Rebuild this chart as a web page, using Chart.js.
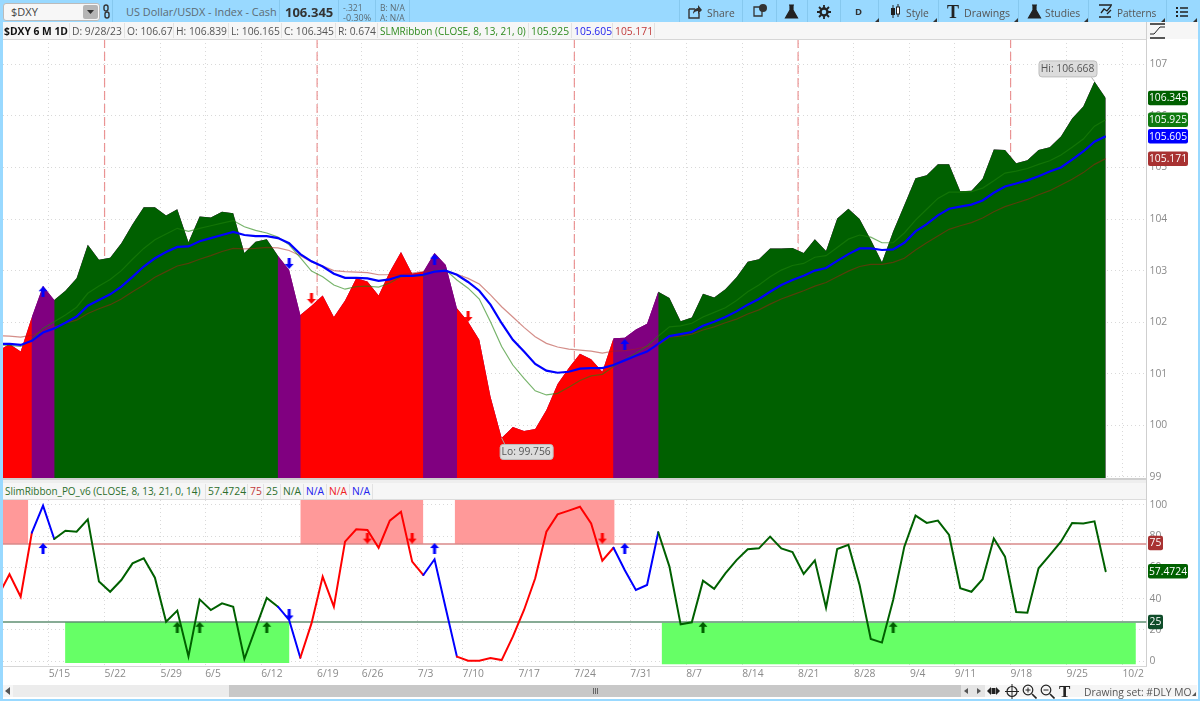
<!DOCTYPE html>
<html><head><meta charset="utf-8">
<script src="https://cdn.jsdelivr.net/npm/chart.js@4/dist/chart.umd.min.js"></script>
<style>
html,body{margin:0;padding:0;background:#fff;width:1200px;height:701px;overflow:hidden;font-family:"Open Sans",sans-serif;font-size:10.3px;color:#555}
canvas{position:absolute;left:0;top:0}
.b{position:absolute}
.t{position:absolute;white-space:nowrap;line-height:16px}
svg{position:absolute}
</style></head><body>
<canvas id="price" width="1200" height="701" style="z-index:1"></canvas>
<div id="ui"></div>
<canvas id="osc" width="1200" height="701" style="z-index:3"></canvas>
<script>
// ---------- data (first entry is the bar clipped at the left edge, bar -1) ----------
const closes=[101.44,101.58,101.43,102.10,102.70,102.43,102.61,102.85,103.50,103.21,103.25,103.53,103.90,104.23,104.23,104.07,104.19,103.55,104.05,104.03,104.14,104.11,103.34,103.56,103.61,103.29,103.01,102.14,102.32,102.52,102.10,102.42,102.85,102.79,102.52,102.98,103.36,102.94,102.98,103.34,103.11,102.27,102.01,101.66,100.56,99.756,99.97,99.89,99.93,100.30,100.80,101.11,101.39,101.28,101.04,101.69,101.70,101.86,101.97,102.59,102.47,102.02,102.09,102.55,102.48,102.64,102.87,103.17,103.22,103.43,103.43,103.44,103.34,103.61,103.38,104.01,104.20,104.00,103.60,103.16,103.76,104.27,104.79,104.85,105.06,105.06,104.54,104.55,104.78,105.35,105.34,105.08,105.14,105.34,105.39,105.60,105.95,106.18,106.668,106.345];
const ribbonFast=[101.56,101.55,101.53,101.66,101.88,102.01,102.14,102.29,102.56,102.70,102.83,103.00,103.22,103.43,103.60,103.71,103.82,103.76,103.82,103.87,103.92,103.97,103.85,103.78,103.73,103.65,103.50,103.25,102.99,102.88,102.72,102.64,102.69,102.70,102.68,102.76,102.88,102.90,102.90,103.00,103.01,102.82,102.66,102.45,102.01,101.53,101.17,100.91,100.67,100.59,100.62,100.74,100.87,100.96,100.99,101.14,101.27,101.40,101.54,101.73,101.91,101.93,101.98,102.10,102.19,102.28,102.42,102.59,102.72,102.88,103.01,103.10,103.14,103.26,103.29,103.45,103.61,103.69,103.65,103.54,103.54,103.73,103.98,104.19,104.40,104.52,104.52,104.53,104.60,104.74,104.89,104.93,104.98,105.06,105.13,105.24,105.39,105.55,105.80,105.925];
const ribbonMid=[101.58,101.58,101.56,101.64,101.80,101.88,101.99,102.11,102.32,102.43,102.54,102.69,102.88,103.08,103.24,103.36,103.46,103.47,103.57,103.63,103.69,103.75,103.69,103.67,103.67,103.63,103.53,103.32,103.18,103.08,102.94,102.86,102.86,102.85,102.80,102.83,102.90,102.90,102.92,102.98,103.00,102.92,102.78,102.61,102.34,101.98,101.66,101.43,101.19,101.06,101.02,101.04,101.10,101.11,101.11,101.17,101.26,101.35,101.43,101.58,101.73,101.77,101.81,101.93,102.01,102.10,102.21,102.34,102.45,102.59,102.72,102.82,102.90,103.00,103.05,103.19,103.32,103.43,103.43,103.40,103.41,103.54,103.76,103.90,104.07,104.20,104.24,104.28,104.36,104.51,104.63,104.69,104.75,104.83,104.92,105.00,105.15,105.31,105.50,105.605];
const ribbonSlow=[101.74,101.73,101.71,101.75,101.83,101.91,101.98,102.04,102.17,102.26,102.34,102.45,102.59,102.72,102.87,102.98,103.09,103.14,103.22,103.29,103.37,103.43,103.42,103.43,103.45,103.44,103.39,103.29,103.17,103.09,103.00,102.98,102.97,102.96,102.92,102.92,102.92,102.95,102.98,103.00,102.99,102.93,102.85,102.74,102.53,102.30,102.10,101.90,101.72,101.59,101.52,101.48,101.46,101.44,101.40,101.44,101.45,101.48,101.53,101.55,101.71,101.73,101.77,101.85,101.91,101.99,102.06,102.16,102.24,102.35,102.45,102.53,102.61,102.70,102.77,102.88,102.99,103.08,103.12,103.12,103.16,103.24,103.40,103.54,103.67,103.80,103.87,103.93,104.02,104.14,104.24,104.31,104.38,104.47,104.55,104.66,104.77,104.90,105.06,105.171];
const oscillator=[41.9,55.6,41.2,82.3,99.6,78.2,83.5,82.9,90.8,50.9,44.4,51.9,62.6,65.8,53.4,25.2,32.3,3.0,39.5,32.7,37.0,34.8,1.3,20.9,40.4,34.8,26.3,2.1,24.1,54.1,34.8,76.5,84.4,84.0,72.6,90.0,95.7,63.7,55.1,65.2,33.8,2.8,0.2,0.2,1.9,0.6,15.6,32.7,53.0,82.9,94.0,96.4,98.9,88.2,64.3,72.6,58.3,45.5,48.7,82.5,60.5,23.5,24.8,51.5,46.2,56.2,64.7,71.6,72.2,79.7,72.2,69.9,55.8,64.5,34.2,71.8,74.4,48.7,14.1,11.8,39.1,73.3,93.2,88.5,90.0,80.8,46.6,44.4,52.4,78.6,66.9,31.4,31.0,59.4,67.9,76.5,88.5,88.2,89.5,57.4724];

// trend regime: each segment starts at the bar in regimeStarts
const regimeStarts=[-1,2,4,24,26,37,40,54,58];
const regimeNames=['bear','turn','bull','turn','bear','turn','bear','turn','bull'];

// date ticks: the label sits at the left edge of the named bar
const tickLabels=['5/15','5/22','5/29','6/5','6/12','6/19','6/26','7/3','7/10','7/17','7/24','7/31','8/7','8/14','8/21','8/28','9/4','9/11','9/18','9/25','10/2'];
const tickBars=[4,9,14,18,23,28,32,37,41,46,51,56,61,66,71,76,81,85,90,95,100];
const sessionBars=[9,28,51,71,90];

// signal arrows on the price panel: [bar, value]
const priceBlueUp=[[3,102.59],[38,103.22],[55,101.57]];
const priceBlueDown=[[25,103.14]];
const priceRedDown=[[27,102.46],[41,102.11]];
// signal arrows on the oscillator panel
const oscBlueUp=[[3,72.1],[38,72.1],[55,72.1]];
const oscBlueDown=[[25,29.5]];
const oscRedDown=[[32,78.8],[36,78.8],[53,78.8]];
const oscGreenUp=[[15,21.6],[17,21.6],[23,21.6],[62,21.6],[79,21.6]];

// oscillator zones: [first bar, last bar]
const overboughtZones=[[-0.58,1.68],[26.0,37.0],[39.8,54.1]];
const oversoldZones=[[4.97,25.03,25,-1.3],[58.3,100.7,24.6,-2.1]];
const overboughtLevel=75, oversoldLevel=25;

const xMin=-0.58,xMax=101.65,FS=10.3;
const COLORS={bear:'#ff0000',turn:'#800080',bull:'#006000'};
const LINE={bear:'#ff0000',turn:'#0000ff',bull:'#006000'};
const regimeAt=b=>{let k=0;regimeStarts.forEach((s,n)=>{if(b>=s)k=n});return regimeNames[k]};
const pts=a=>a.map((y,j)=>({x:j-1,y}));
const sig=a=>a.map(([x,y])=>({x,y}));

function arrow(color,up){
  const c=document.createElement('canvas');c.width=10;c.height=11;const g=c.getContext('2d');
  g.fillStyle=color;g.beginPath();
  const P=up?[[5,0],[9.5,5],[6.5,5],[6.5,11],[3.5,11],[3.5,5],[0.5,5]]:[[5,11],[9.5,6],[6.5,6],[6.5,0],[3.5,0],[3.5,6],[0.5,6]];
  P.forEach((p,i)=>i?g.lineTo(p[0],p[1]):g.moveTo(p[0],p[1]));g.closePath();g.fill();return c;
}
const sigSet=(data,color,up)=>({type:'scatter',data:sig(data),pointStyle:arrow(color,up),pointRadius:5,showLine:false,clip:false});

function tag(ctx,text,y,bg,w){
  ctx.save();ctx.fillStyle=bg;const x=1148,h=14.5;
  ctx.beginPath();ctx.roundRect(x,y-h/2,w,h,2);ctx.fill();
  ctx.fillStyle='#fff';ctx.font=FS+'px "Open Sans"';ctx.textAlign='center';ctx.textBaseline='middle';
  ctx.fillText(text,x+w/2,y+.5);ctx.restore();
}
function callout(ctx,text,px,py,bx,by,bw,bh){
  ctx.save();ctx.strokeStyle='#aaa';ctx.lineWidth=1;ctx.beginPath();ctx.moveTo(px,py);ctx.lineTo(px+(bx+bw/2>px+20?3:-3),py+(by>py?6:-4));ctx.stroke();
  ctx.fillStyle='#dcdcdc';ctx.strokeStyle='#bdbdbd';ctx.beginPath();ctx.roundRect(bx+.5,by+.5,bw,bh,3);ctx.fill();ctx.stroke();
  ctx.fillStyle='#555';ctx.font=FS+'px "Open Sans"';ctx.textAlign='center';ctx.textBaseline='middle';ctx.fillText(text,bx+bw/2,by+bh/2+1);ctx.restore();
}
const dotted={color:'#d9d9d9',lineWidth:1,drawTicks:false};
function xAxis(showLabels,height){return{
  type:'linear',min:xMin,max:xMax,
  afterBuildTicks:s=>{s.ticks=tickBars.map(b=>({value:b-0.5}))},
  afterFit:s=>{s.height=height},
  grid:dotted,border:{display:false,dash:[1,3]},
  ticks:{display:showLabels,autoSkip:false,maxRotation:0,minRotation:0,align:'start',padding:2,color:'#8a8a8a',font:{family:'Open Sans',size:FS},callback:(v,i)=>tickLabels[i]}
}}
function yAxis(min,max,step){return{
  type:'linear',position:'right',min,max,
  afterFit:s=>{s.width=53.5},
  grid:dotted,border:{display:false,dash:[1,3]},
  ticks:{stepSize:step,includeBounds:false,padding:3,color:'#8a8a8a',font:{family:'Open Sans',size:FS},callback:v=>String(v)}
}}
const base={responsive:false,animation:false,devicePixelRatio:window.devicePixelRatio||1,events:[],
  elements:{point:{radius:0},line:{tension:0}},plugins:{legend:{display:false},tooltip:{enabled:false}}};

new Chart(document.getElementById('price'),{
  type:'line',
  data:{datasets:[
    sigSet(priceBlueUp,'#0000ff',true),sigSet(priceBlueDown,'#0000ff',false),sigSet(priceRedDown,'#ff0000',false),
    {data:pts(ribbonMid),borderColor:'#0000ff',borderWidth:2.2,fill:false},
    {data:pts(ribbonFast),borderColor:'rgba(30,130,10,.6)',borderWidth:1.2,fill:false},
    {data:pts(ribbonSlow),borderColor:'rgba(170,30,20,.5)',borderWidth:1.2,fill:false},
    {data:pts(closes),borderColor:'transparent',borderWidth:0,backgroundColor:COLORS.bear,fill:'start',
     segment:{backgroundColor:c=>COLORS[regimeAt(c.p0.parsed.x)]}},
    {data:pts(closes),borderColor:'transparent',borderWidth:0,backgroundColor:COLORS.turn,fill:'start'}
  ]},
  options:{...base,layout:{autoPadding:false,padding:{left:3,top:39,right:0,bottom:223}},
    scales:{x:xAxis(false,0),y:yAxis(98.98,107.49,1)}},
  plugins:[{id:'marks',
    beforeDatasetsDraw(ch){const c=ch.ctx,a=ch.chartArea;c.save();c.strokeStyle='rgba(232,130,130,.85)';c.lineWidth=1.2;c.setLineDash([9,4]);
      sessionBars.forEach(b=>{const x=ch.scales.x.getPixelForValue(b-0.5);c.beginPath();c.moveTo(x,a.top);c.lineTo(x,a.bottom);c.stroke()});c.restore()},
    afterDraw(ch){const c=ch.ctx,y=ch.scales.y,x=ch.scales.x;
      const last=a=>a[a.length-1];
      tag(c,last(closes).toFixed(3),y.getPixelForValue(last(closes)),'#006000',40);
      tag(c,last(ribbonFast).toFixed(3),y.getPixelForValue(last(ribbonFast)),'#0f7a0f',40);
      tag(c,last(ribbonMid).toFixed(3),y.getPixelForValue(last(ribbonMid)),'#0000ff',40);
      tag(c,last(ribbonSlow).toFixed(3),y.getPixelForValue(last(ribbonSlow)),'#a83232',40);
      const hi=closes.indexOf(Math.max(...closes)),lo=closes.indexOf(Math.min(...closes));
      const hx=x.getPixelForValue(hi-1),hy=y.getPixelForValue(closes[hi]);
      callout(c,'Hi: '+closes[hi],hx,hy,hx-56,hy-21,58,16);
      const lx=x.getPixelForValue(lo-1),ly=y.getPixelForValue(closes[lo]);
      callout(c,'Lo: '+closes[lo],lx,ly,lx-2,ly+6,53,15);
    }}]
});

const zoneSet=(z,top,bottom,color)=>({data:[{x:z[0],y:top},{x:z[1],y:top}],borderColor:'transparent',borderWidth:0,backgroundColor:color,fill:{value:bottom}});
new Chart(document.getElementById('osc'),{
  type:'line',
  data:{datasets:[
    sigSet(oscBlueUp,'#0000ff',true),sigSet(oscBlueDown,'#0000ff',false),sigSet(oscRedDown,'#ff0000',false),sigSet(oscGreenUp,'#006000',true),
    {data:pts(oscillator),borderWidth:2,borderColor:LINE.bear,fill:false,borderCapStyle:'round',
     segment:{borderColor:c=>LINE[regimeAt(c.p0.parsed.x)]}},
    {data:[{x:xMin,y:overboughtLevel},{x:xMax,y:overboughtLevel}],borderColor:'#d98a8a',borderWidth:1.3,fill:false},
    {data:[{x:xMin,y:oversoldLevel},{x:xMax,y:oversoldLevel}],borderColor:'#5f8f72',borderWidth:1.3,fill:false},
    ...overboughtZones.map(z=>zoneSet(z,103.2,overboughtLevel,'#ff9999')),
    ...oversoldZones.map(z=>zoneSet(z,z[2],z[3],'#66ff66'))
  ]},
  options:{...base,layout:{autoPadding:false,padding:{left:3,top:500,right:0,bottom:16}},
    scales:{x:xAxis(true,19),y:yAxis(-3.2,103.2,20)}},
  plugins:[{id:'tags',afterDraw(ch){const c=ch.ctx,y=ch.scales.y;
    tag(c,String(overboughtLevel),y.getPixelForValue(overboughtLevel)-1,'#a83232',15);
    tag(c,String(oscillator[oscillator.length-1]),y.getPixelForValue(oscillator[oscillator.length-1]),'#006000',40);
    tag(c,String(oversoldLevel),y.getPixelForValue(oversoldLevel),'#0f4d2a',15);
  }}]
});

// ---------- application chrome ----------
const ui=document.getElementById('ui');
function box(l,t,w,h,bg,extra){const d=document.createElement('div');d.className='b';d.style.cssText=`left:${l}px;top:${t}px;width:${w}px;height:${h}px;background:${bg};z-index:2;${extra||''}`;ui.appendChild(d);return d}
function txt(l,cy,s,color,size,bold){const d=document.createElement('div');d.className='t';d.textContent=s;d.style.cssText=`left:${l}px;top:${cy-8}px;color:${color||'#555'};font-size:${size||FS}px;${bold?'font-weight:700;':''}z-index:2`;ui.appendChild(d);return d}
function icon(l,t,w,h,inner){const d=document.createElement('div');d.className='b';d.style.cssText=`left:${l}px;top:${t}px;width:${w}px;height:${h}px;z-index:2`;d.innerHTML=`<svg width="${w}" height="${h}" viewBox="0 0 ${w} ${h}" style="left:0;top:0">${inner}</svg>`;ui.appendChild(d)}
const SKY='#99d9ff';
// frame
box(0,0,1200,22,SKY);box(0,0,2.5,701,SKY);box(1197.5,0,2.5,701,SKY);box(0,698.5,1200,2.5,SKY);
// toolbar
box(3,3,97,18,'#f7f7f7','border:1px solid #bbb;border-radius:3px;box-sizing:border-box');
box(83,5,15,14,'#b5b5b5','border-radius:2px');
icon(83,5,15,14,'<path d="M4 5h7l-3.5 4z" fill="#333"/>');
txt(11,12,'$DXY','#444',11);
icon(103,4,9,16,'<rect x="1" y="1" width="4" height="6" rx="2" fill="none" stroke="#333" stroke-width="1.4"/><rect x="2" y="8" width="4" height="6" rx="2" fill="none" stroke="#333" stroke-width="1.4"/>');
txt(126,12,'US Dollar/USDX - Index - Cash','#5c6b73',10.9);
txt(285,12,'106.345','#333',13,true);
txt(343,7.5,'-.321','#5c6b73',8.5);txt(343,17.5,'-0.30%','#5c6b73',9);
txt(380,7.5,'B: N/A','#5c6b73',8.5);txt(380,17.5,'A: N/A','#5c6b73',8.5);
[112,279,338,375,409].forEach(x=>box(x,0,1,22,'#86c8ee'));
[679,742,776,807,840,878,938,1018,1088,1166].forEach(x=>box(x,0,1,22,'#86c8ee'));
icon(688,4,14,15,'<path d="M1 5h6M1 5v9h10V9" fill="none" stroke="#333" stroke-width="1.4"/><path d="M5 10c0-4 3-6 5-6V1l4 5-4 4V7c-2 0-4 1-5 3z" fill="#333"/>');
txt(707,12.5,'Share','#555',10.3);
icon(753,4,14,14,'<path d="M1 3h8v9H1z" fill="none" stroke="#333" stroke-width="1.3"/><circle cx="10" cy="4" r="4" fill="#333"/>');
const flask='<path d="M5 1h5M6 1v5L1.5 14h12L9 6V1" fill="#222" stroke="#222" stroke-width="1.2"/>';
icon(784,4,15,15,flask);
icon(817,5,14,14,'<circle cx="7" cy="7" r="3.5" fill="none" stroke="#222" stroke-width="2.4"/><path d="M7 0v3M7 11v3M0 7h3M11 7h3M2 2l2 2M10 10l2 2M12 2l-2 2M4 10l-2 2" stroke="#222" stroke-width="1.8"/>');
txt(855,12,'D','#333',9.5,true);
icon(890,4,11,15,'<rect x="1" y="4" width="4" height="7" fill="#222"/><path d="M3 1v13M8 0v13" stroke="#222"/><rect x="6.5" y="3" width="3" height="7" fill="#fff" stroke="#222"/>');
txt(906,12.5,'Style','#555',10.3);
txt(947,12,'T','#222',18,true).style.fontFamily='Liberation Serif';
txt(964,12.5,'Drawings','#555',10.6);
icon(1027,4,15,15,flask);
txt(1045,12.5,'Studies','#555',10.3);
icon(1098,3,15,16,'<path d="M1 2h13M1 14h12M3 10l3-4 3 2 4-5M9 11l4-4" fill="none" stroke="#222" stroke-width="1.3"/>');
txt(1117,12.5,'Patterns','#555',10);
icon(1176,6,13,11,'<path d="M0 1h2v2H0zM0 5h2v2H0zM0 9h2v2H0z" fill="#222"/><path d="M4 2h8M4 6h8M4 10h8" stroke="#222" stroke-width="1.4"/>');
[[875,18],[933,18],[1014,18],[1084,18],[1161,18],[1193,18]].forEach(p=>icon(p[0],p[1],4,4,'<path d="M4 0v4H0z" fill="#333"/>'));
// price legend
box(2.5,22,1143.5,17,'#f6f6f6');
box(2.5,38.5,1144,1,'#d6d6d6');
box(1147,22,50.5,17,'#f6f6f6');
icon(1149,23,17,16,'<path d="M1 1h15M1 15h15" stroke="#222" stroke-width="1.4"/><path d="M1 11h4l6-7h5" fill="none" stroke="#222"/>');
const priceLegend=[[4,'$DXY 6 M 1D','#111',true],[72,'D: 9/28/23','#555'],[127,'O: 106.67','#555'],[176,'H: 106.839','#555'],[231,'L: 106.165','#555'],[284,'C: 106.345','#555'],[338,'R: 0.674','#555'],[380,'SLMRibbon (CLOSE, 8, 13, 21, 0)','#2e8b1e',false,9.95],[531,'105.925','#2e8b1e'],[574,'105.605','#2222ee'],[615,'105.171','#c23b3b']];
priceLegend.forEach(p=>{txt(p[0],30.5,p[1],p[2],p[4]||FS,p[3]);if(p[0]>4)box(p[0]-3,23,1,15,'#e2e2e2')});
box(654,23,1,15,'#e2e2e2');
// between panels
box(2.5,478,1144,1.5,'#cfcfcf');box(2.5,479.5,1144,3,'#eeeeee');
box(1147,481,50.5,19,'#fff');
box(2.5,483,1144,16,'#f6f6f6');box(2.5,499,1144,1,'#dcdcdc');
const oscLegend=[[5,'SlimRibbon_PO_v6 (CLOSE, 8, 13, 21, 0, 14)','#2c6e2c',9.95],[208,'57.4724','#2c6e2c'],[250,'75','#c23b3b'],[266,'25','#2c6e2c'],[283,'N/A','#2c6e2c'],[306,'N/A','#2222ee'],[329,'N/A','#ee2222'],[352,'N/A','#2222ee']];
oscLegend.forEach(p=>{txt(p[0],491,p[1],p[2],p[3]||FS);if(p[0]>5)box(p[0]-3,484,1,15,'#e2e2e2')});
box(372,484,1,15,'#e2e2e2');
// axis rules
box(1146,22,1,645,'#cfcfcf');box(2.5,665.5,1144,1.2,'#d6d6d6');
// scroll bar
box(3,685,1194,12,'#f5f5f5');box(13,685,216,12,'#ececec');box(229,685,732,12,'#c8c8c8');box(961,685,24,12,'#e4e4e4');
icon(5,687,6,8,'<path d="M5 0v8L0 4z" fill="#555"/>');
icon(963,687,6,8,'<path d="M5 1v6L1 4z" fill="#555"/>');icon(976,687,6,8,'<path d="M1 1v6l4-3z" fill="#555"/>');
icon(593,688,6,6,'<path d="M.5 0v6M2.5 0v6M4.5 0v6" stroke="#666"/>');
icon(987,686,13,10,'<path d="M0 5l4-4v8zM13 5l-4-4v8z" fill="#222"/><rect x="4.5" y="2" width="4" height="6" fill="#222"/>');
icon(1005,684,14,15,'<circle cx="7" cy="7.5" r="5" fill="none" stroke="#222" stroke-width="1.2"/><path d="M7 0v15M0 7.5h14" stroke="#222"/>');
const lens=s=>`<circle cx="6" cy="6" r="4.8" fill="none" stroke="#222" stroke-width="1.2"/><path d="M10 10l4.5 4.5" stroke="#222" stroke-width="1.6"/><path d="${s}" stroke="#222"/>`;
icon(1022,684,15,15,lens('M3.5 6h5M6 3.5v5'));icon(1040,684,15,15,lens('M3.5 6h5'));
txt(1059,692,'T','#222',17,true).style.fontFamily='Liberation Serif';
txt(1084,692,'Drawing set: #DLY MO','#555',FS);
icon(1192,692,4,4,'<path d="M4 0v4H0z" fill="#555"/>');
</script>
</body></html>
